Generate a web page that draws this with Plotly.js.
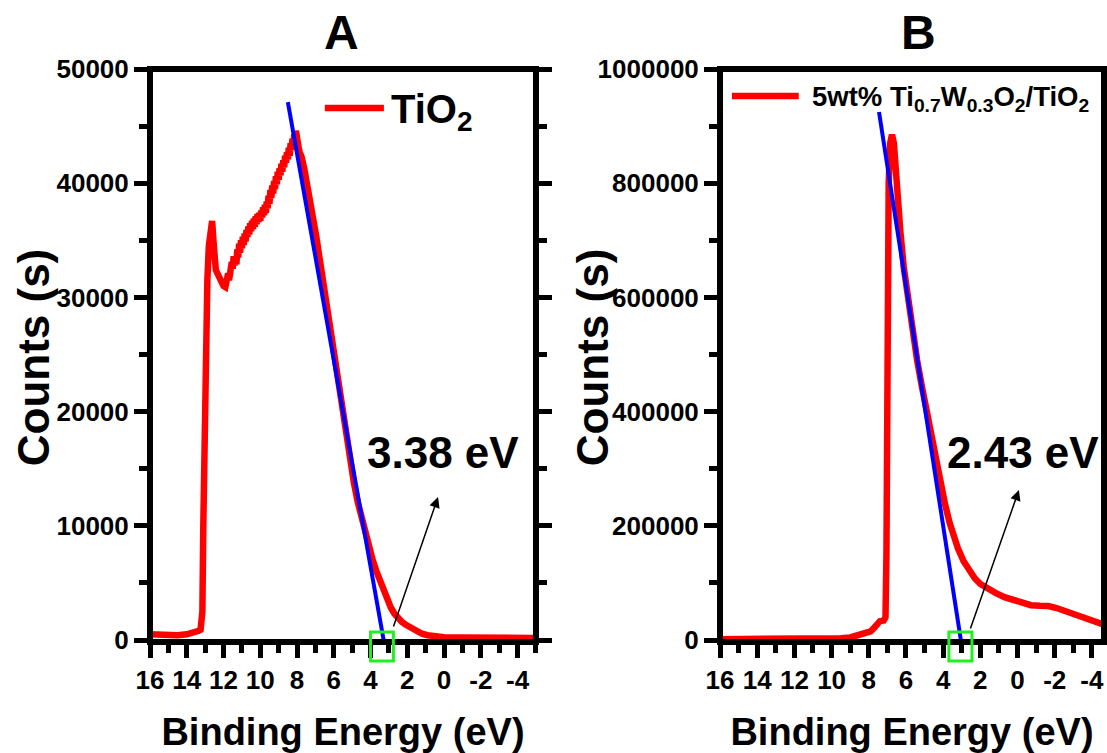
<!DOCTYPE html>
<html>
<head>
<meta charset="utf-8">
<script src="https://cdn.plot.ly/plotly-3.0.1.min.js"></script>
<style>
html,body{margin:0;padding:0;background:#fff;}
#chart{width:1107px;height:753px;}
</style>
</head>
<body>
<div id="chart"></div>
<script>
// ---------- Panel A : TiO2 valence band spectrum ----------
const energyA = [16, 15.5, 15, 14.5, 14, 13.6, 13.35, 13.25, 13.15, 13.1, 13.02, 12.95, 12.88, 12.8, 12.7, 12.62, 12.55, 12.5, 12.42, 12.3, 12.15, 12.0, 11.9,
  11.8, 11.75, 11.7, 11.65, 11.6, 11.55, 11.5, 11.45, 11.4, 11.35, 11.3, 11.25, 11.2, 11.15, 11.1, 11.05, 11.0, 10.95, 10.9, 10.85, 10.8, 10.75, 10.7, 10.65, 10.6, 10.55, 10.5,
  10.45, 10.4, 10.35, 10.3, 10.25, 10.2, 10.15, 10.1, 10.05, 10.0, 9.95, 9.9, 9.85, 9.8, 9.75, 9.7, 9.65, 9.6, 9.55, 9.5, 9.45, 9.4, 9.35, 9.3, 9.25, 9.2, 9.15, 9.1, 9.05, 9.0,
  8.95, 8.9, 8.85, 8.8, 8.75, 8.7, 8.65, 8.6, 8.55, 8.5, 8.45, 8.4, 8.35, 8.3, 8.25, 8.2, 8.15, 8.1, 8.06, 8.0, 7.95, 7.9, 7.85, 7.75, 7.6, 7.45, 7.3, 7.2, 7.05, 6.95, 6.8, 6.7, 6.5, 6.3, 6.1, 5.9, 5.7, 5.5, 5.3, 5.1, 4.9,
  4.7, 4.5, 4.3, 4.1, 3.9, 3.7, 3.5, 3.3, 3.1, 2.9, 2.7, 2.5, 2.3, 2.1, 1.9, 1.7, 1.5, 1.2, 0.9, 0.5, 0, -1, -2, -3, -4, -5];
const countsA = [500, 450, 400, 420, 500, 600, 800, 900, 2500, 10000, 22000, 29000, 31500, 34500, 36500, 36700, 35000, 33000, 32400, 32000, 31300, 31000, 30900,
  31400, 32100, 31500, 32600, 31900, 33100, 32500, 33600, 32800, 33400, 32900, 34200, 33500, 34700, 33900, 35000, 34300, 35300, 34600, 35600, 34900, 35900, 35300, 36200, 35500, 36500, 35800,
  36700, 36000, 36900, 36200, 37100, 36400, 37300, 36600, 37400, 36700, 37600, 37000, 37900, 37200, 38100, 37400, 38400, 37800, 38900, 38200, 39400, 38700, 39800, 39100, 40200, 39500, 40600, 39900, 41000, 40300,
  41300, 40700, 41700, 41000, 42000, 41400, 42400, 41800, 42700, 42100, 43100, 42400, 43500, 42900, 43900, 43300, 44300, 43700, 44600, 43600, 44200, 43000, 42700, 42300, 41200, 40000, 38800, 37600, 36300, 35300, 33700, 32600, 30500, 28600, 26800, 24400, 22000, 19700, 17500, 15500, 13700,
  12100, 10700, 9500, 8300, 7100, 6100, 5200, 4300, 3500, 2850, 2300, 1900, 1600, 1350, 1150, 950, 750, 550, 420, 320, 250, 220, 200, 200, 190, 180];
const fitEnergyA = [8.50, 3.25];
const fitCountsA = [47100, -350];

// ---------- Panel B : 5wt% Ti0.7W0.3O2/TiO2 ----------
const energyB = [16, 14, 12, 10, 9.5, 9, 8.6, 8.2, 7.9, 7.7, 7.55, 7.4, 7.2, 7.1, 7.05, 7.0, 6.93, 6.85, 6.75, 6.65, 6.55, 6.45, 6.3, 6.12, 5.9, 5.66, 5.4, 5.15,
  4.9, 4.65, 4.4, 4.15, 3.9, 3.65, 3.4, 3.2, 2.9, 2.6, 2.3, 2.0, 1.6, 1.16, 0.7, 0.21, -0.3, -0.72, -1.2, -1.66, -2.1, -2.6, -3.0, -3.5, -4.0, -4.65];
const countsB = [1500, 1500, 1500, 2000, 3000, 4500, 7500, 11000, 15000, 22000, 30000, 33000, 34000, 40000, 150000, 500000, 800000, 870000, 885000, 870000, 820000, 775000, 715000, 653000, 600000, 545000, 490000, 445000,
  402000, 360000, 318000, 277000, 238000, 205000, 178000, 160000, 138000, 121000, 108000, 98000, 89000, 82000, 75000, 70000, 64000, 61000, 60000, 59500, 56000, 50000, 46000, 40000, 35000, 27000];
const fitEnergyB = [7.45, 2.99];
const fitCountsB = [924700, -12300];

// ---------- tick labels & annotation values ----------
const xTickVals = [16, 14, 12, 10, 8, 6, 4, 2, 0, -2, -4];
const xTickLabels = ['16', '14', '12', '10', '8', '6', '4', '2', '0', '-2', '-4'];
const yTickValsA = [0, 10000, 20000, 30000, 40000, 50000];
const yTickLabelsA = ['0', '10000', '20000', '30000', '40000', '50000'];
const yTickValsB = [0, 200000, 400000, 600000, 800000, 1000000];
const yTickLabelsB = ['0', '200000', '400000', '600000', '800000', '1000000'];
const panelLetters = ['A', 'B'];
const seriesNames = ['TiO<sub>2</sub>', '5wt% Ti<sub>0.7</sub>W<sub>0.3</sub>O<sub>2</sub>/TiO<sub>2</sub>'];
const xTitle = 'Binding Energy (eV)';
const yTitle = 'Counts (s)';
const gapLabels = ['3.38 eV', '2.43 eV'];
const gapBoxCenters = [3.38, 3.07];

const FONT = 'Liberation Sans, Arial, Helvetica, sans-serif';
const RED = '#ff0000', BLUE = '#0000ff', GREEN = '#22ee22';

const traces = [
  {x: energyA, y: countsA, xaxis: 'x', yaxis: 'y', mode: 'lines', name: 'TiO2',
   line: {color: RED, width: 6.5}, showlegend: false, hoverinfo: 'skip'},
  {x: fitEnergyA, y: fitCountsA, xaxis: 'x', yaxis: 'y', mode: 'lines',
   line: {color: BLUE, width: 4}, showlegend: false, hoverinfo: 'skip'},
  {x: energyB, y: countsB, xaxis: 'x2', yaxis: 'y2', mode: 'lines', name: '5wt% Ti0.7W0.3O2/TiO2',
   line: {color: RED, width: 6.5}, showlegend: false, hoverinfo: 'skip'},
  {x: fitEnergyB, y: fitCountsB, xaxis: 'x2', yaxis: 'y2', mode: 'lines',
   line: {color: BLUE, width: 4}, showlegend: false, hoverinfo: 'skip'}
];

function xAxis(domain, range, anchor) {
  return {
    domain: domain, range: range, anchor: anchor,
    tickmode: 'array', tickvals: xTickVals, ticktext: xTickLabels,
    ticks: 'outside', ticklen: 15, tickwidth: 5, tickcolor: '#000',
    minor: {dtick: 1, tick0: 0, ticks: 'outside', ticklen: 10, tickwidth: 5, tickcolor: '#000', showgrid: false},
    showgrid: false, zeroline: false, showline: false,
    tickfont: {family: FONT, size: 26, weight: 'bold', color: '#000'},
    title: {text: xTitle, font: {family: FONT, size: 38, weight: 'bold', color: '#000'}, standoff: 25}
  };
}
function yAxis(range, vals, labels, minorStep, anchor) {
  return {
    range: range, anchor: anchor,
    tickmode: 'array', tickvals: vals, ticktext: labels,
    ticks: 'outside', ticklen: 15, tickwidth: 5, tickcolor: '#000', mirror: 'ticks',
    minor: {dtick: minorStep, tick0: 0, ticks: 'outside', ticklen: 10, tickwidth: 5, tickcolor: '#000', showgrid: false},
    showgrid: false, zeroline: false, showline: false,
    tickfont: {family: FONT, size: 26, weight: 'bold', color: '#000'}
  };
}

const layout = {
  width: 1107, height: 753,
  margin: {l: 150, r: 3, t: 69, b: 111},
  paper_bgcolor: '#fff', plot_bgcolor: '#fff',
  showlegend: false,
  font: {family: FONT, color: '#000'},
  xaxis: xAxis([0, 0.4046], [16, -5], 'y'),
  yaxis: yAxis([-175, 50000], yTickValsA, yTickLabelsA, 5000, 'x'),
  xaxis2: xAxis([0.5975, 1], [16, -4.65], 'y2'),
  yaxis2: yAxis([-3500, 1000000], yTickValsB, yTickLabelsB, 100000, 'x2'),
  shapes: [
    // frames
    {type: 'rect', xref: 'x domain', yref: 'y domain', x0: 0, x1: 1, y0: 0, y1: 1, line: {color: '#000', width: 6}, layer: 'above'},
    {type: 'rect', xref: 'x2 domain', yref: 'y2 domain', x0: 0, x1: 1, y0: 0, y1: 1, line: {color: '#000', width: 6}, layer: 'above'},
    // legend line samples
    {type: 'line', xref: 'x domain', yref: 'y domain', x0: 0.453, x1: 0.606, y0: 0.932, y1: 0.932, line: {color: RED, width: 6.5}},
    {type: 'line', xref: 'x2 domain', yref: 'y2 domain', x0: 0.031, x1: 0.205, y0: 0.953, y1: 0.953, line: {color: RED, width: 6.5}},
    // gap markers
    {type: 'rect', xref: 'x', yref: 'y domain', x0: gapBoxCenters[0] + 0.62, x1: gapBoxCenters[0] - 0.62, y0: -0.033, y1: 0.0175, line: {color: GREEN, width: 3}, layer: 'above'},
    {type: 'rect', xref: 'x2', yref: 'y2 domain', x0: gapBoxCenters[1] + 0.62, x1: gapBoxCenters[1] - 0.62, y0: -0.033, y1: 0.0175, line: {color: GREEN, width: 3}, layer: 'above'}
  ],
  annotations: [
    {text: panelLetters[0], xref: 'x domain', yref: 'paper', x: 0.495, y: 1.063, xanchor: 'center', yanchor: 'middle', showarrow: false,
     font: {family: FONT, size: 48, weight: 'bold', color: '#000'}},
    {text: panelLetters[1], xref: 'x2 domain', yref: 'paper', x: 0.516, y: 1.063, xanchor: 'center', yanchor: 'middle', showarrow: false,
     font: {family: FONT, size: 48, weight: 'bold', color: '#000'}},
    // y-axis titles
    {text: yTitle, textangle: -90, xref: 'paper', yref: 'paper', x: -0.1226, y: 0.497, xanchor: 'center', yanchor: 'middle', showarrow: false,
     font: {family: FONT, size: 44, weight: 'bold', color: '#000'}},
    {text: yTitle, textangle: -90, xref: 'paper', yref: 'paper', x: 0.4633, y: 0.497, xanchor: 'center', yanchor: 'middle', showarrow: false,
     font: {family: FONT, size: 44, weight: 'bold', color: '#000'}},
    // legend texts
    {text: seriesNames[0], xref: 'x domain', yref: 'y domain', x: 0.619, y: 0.925, xanchor: 'left', yanchor: 'middle', showarrow: false,
     font: {family: FONT, size: 40, weight: 'bold', color: '#000'}},
    {text: seriesNames[1], xref: 'x2 domain', yref: 'y2 domain', x: 0.234, y: 0.948, xanchor: 'left', yanchor: 'middle', showarrow: false,
     font: {family: FONT, size: 27.5, weight: 'bold', color: '#000'}},
    // band-gap values
    {text: gapLabels[0], xref: 'x', yref: 'y', x: 0.06, y: 16460, xanchor: 'center', yanchor: 'middle', showarrow: false,
     font: {family: FONT, size: 44, weight: 'bold', color: '#000'}},
    {text: gapLabels[1], xref: 'x2', yref: 'y2', x: -0.29, y: 329000, xanchor: 'center', yanchor: 'middle', showarrow: false,
     font: {family: FONT, size: 44, weight: 'bold', color: '#000'}},
    {text: '', xref: 'x', yref: 'y', axref: 'x', ayref: 'y', x: 0.33, y: 12520, ax: 2.78, ay: 1050,
     showarrow: true, arrowhead: 2, arrowsize: 1.4, arrowwidth: 1.5, arrowcolor: '#000', standoff: 0, startstandoff: 0},
    {text: '', xref: 'x2', yref: 'y2', axref: 'x2', ayref: 'y2', x: -0.075, y: 262700, ax: 2.56, ay: 17500,
     showarrow: true, arrowhead: 2, arrowsize: 1.4, arrowwidth: 1.5, arrowcolor: '#000', standoff: 0, startstandoff: 0}
  ]
};

Plotly.newPlot('chart', traces, layout, {displayModeBar: false, staticPlot: true});
</script>
</body>
</html>
